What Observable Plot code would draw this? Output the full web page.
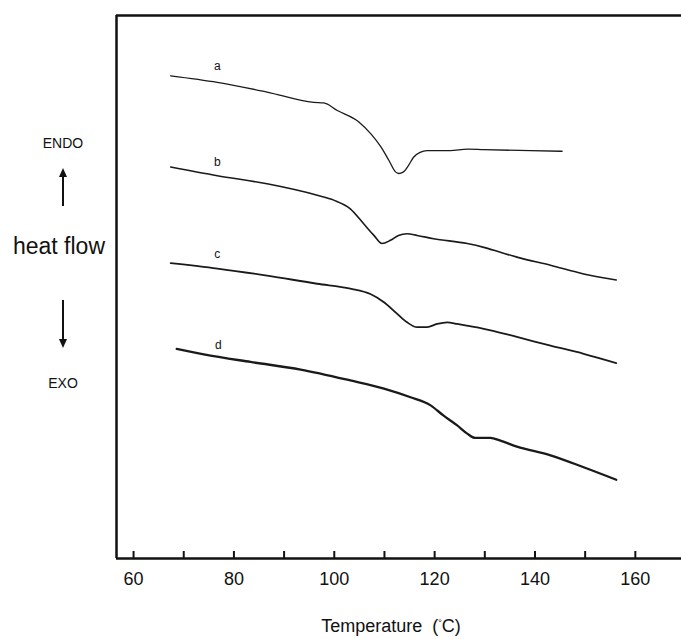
<!DOCTYPE html>
<html>
<head>
<meta charset="utf-8">
<script src="https://cdn.jsdelivr.net/npm/d3@7"></script>
<script src="https://cdn.jsdelivr.net/npm/@observablehq/plot@0.6"></script>
<style>
  html, body { margin: 0; padding: 0; background: #fff; }
  body { font-family: "Liberation Sans", Arial, Helvetica, sans-serif; color: #111; }
  #wrap { position: relative; width: 681px; height: 639px; overflow: hidden; }
  .ann { position: absolute; transform: translate(-50%, -50%); white-space: nowrap; line-height: 1; }
  .shaft { position: absolute; width: 2px; background: #111; transform: translateX(-50%); }
  .headUp, .headDown { position: absolute; width: 0; height: 0; transform: translateX(-50%);
    border-left: 4px solid transparent; border-right: 4px solid transparent; }
  .headUp { border-bottom: 9px solid #111; }
  .headDown { border-top: 9px solid #111; }
  #title { position: absolute; top: 617px; left: 391px; transform: translateX(-50%);
    font-size: 18px; white-space: pre; line-height: 1; }
</style>
</head>
<body>
<div id="wrap">
  <div id="chart"></div>
  <div class="ann" style="left:63px;top:143px;font-size:14px;">ENDO</div>
  <div class="headUp" style="left:63px;top:168px;"></div>
  <div class="shaft" style="left:63px;top:176px;height:30px;"></div>
  <div class="ann" style="left:59px;top:246px;font-size:23px;">heat flow</div>
  <div class="shaft" style="left:63px;top:300px;height:40px;"></div>
  <div class="headDown" style="left:63px;top:339px;"></div>
  <div class="ann" style="left:63px;top:383px;font-size:14px;">EXO</div>
  <div id="title">Temperature  (<sup style="font-size:9px;vertical-align:6px;">°</sup>C)</div>
</div>
<script>
// Axis domain and ticks (°C; heat flow in arbitrary units)
const xDomain = [56.6, 169.2];
const yDomain = [0, 100];
const xTicks = [60, 70, 80, 90, 100, 110, 120, 130, 140, 150, 160];
const xLabels = [60, 80, 100, 120, 140, 160];

// Curve a
const tempA = [67.4, 76.7, 86.6, 95.9, 97.9, 100.6, 104.9, 107.3, 109.3, 110.9, 112.2, 112.8, 113.8, 114.8, 115.8, 117.1, 118.5, 123.1, 126.5, 129.8, 139.1, 145.4];
const flowA = [88.9, 87.7, 85.9, 84.0, 83.9, 82.5, 80.4, 78.2, 75.8, 73.3, 71.2, 70.9, 71.2, 72.4, 73.9, 74.8, 75.1, 75.1, 75.4, 75.3, 75.1, 75.0];
// Curve b
const tempB = [67.4, 76.7, 86.6, 96.6, 99.9, 103.2, 105.9, 107.9, 109.5, 111.2, 112.8, 114.5, 116.5, 119.8, 126.5, 129.8, 133.1, 136.4, 143.1, 149.7, 156.2];
const flowB = [72.1, 70.5, 69.0, 66.9, 66.0, 64.4, 61.6, 59.5, 58.0, 58.6, 59.5, 59.8, 59.5, 58.9, 58.0, 57.3, 56.4, 55.5, 54.0, 52.4, 51.3];
// Curve c
const tempC = [67.4, 76.7, 86.6, 96.6, 103.2, 107.2, 109.9, 112.5, 114.5, 116.5, 118.5, 120.5, 122.5, 124.5, 129.8, 136.4, 143.1, 149.7, 156.2];
const flowC = [54.4, 53.4, 52.1, 50.6, 49.7, 48.7, 47.2, 45.1, 43.5, 42.6, 42.6, 43.2, 43.5, 43.2, 42.3, 40.8, 39.2, 37.7, 36.0];
// Curve d
const tempD = [68.6, 74.0, 83.3, 93.3, 103.2, 109.9, 115.2, 119.2, 121.8, 124.5, 126.5, 128.1, 131.1, 133.1, 136.4, 143.1, 149.7, 156.2];
const flowD = [38.6, 37.6, 36.2, 34.8, 32.8, 31.3, 29.7, 28.2, 26.3, 24.5, 23.0, 22.2, 22.2, 21.7, 20.6, 19.0, 16.8, 14.5];

// Curve labels
const curveNames = ["a", "b", "c", "d"];
const labelTemp = [76.7, 76.7, 76.7, 76.9];
const labelFlow = [90.6, 73.0, 56.0, 39.2];

const toRows = (T, F) => T.map((t, i) => ({t, f: F[i]}));
const labels = curveNames.map((n, i) => ({n, t: labelTemp[i], f: labelFlow[i]}));

const chart = Plot.plot({
  width: 681,
  height: 600,
  marginLeft: 116,
  marginRight: 0,
  marginTop: 15,
  marginBottom: 42,
  style: {fontFamily: "'Liberation Sans', Arial, Helvetica, sans-serif", background: "#fff", color: "#111"},
  x: {domain: xDomain},
  y: {domain: yDomain, axis: null},
  marks: [
    Plot.ruleX(xTicks, {insetTop: 536, strokeWidth: 2, stroke: "#111"}),
    Plot.axisX(xLabels, {tickSize: 0, tickPadding: 14, fontSize: 18, label: null}),
    Plot.ruleY([yDomain[1]], {strokeWidth: 2.5, stroke: "#111"}),
    Plot.ruleY([yDomain[0]], {strokeWidth: 2.5, stroke: "#111"}),
    Plot.ruleX([xDomain[0]], {strokeWidth: 2.5, stroke: "#111"}),
    Plot.line(toRows(tempA, flowA), {x: "t", y: "f", stroke: "#1a1a1a", strokeWidth: 1.3, curve: "monotone-x"}),
    Plot.line(toRows(tempB, flowB), {x: "t", y: "f", stroke: "#1a1a1a", strokeWidth: 1.6, curve: "monotone-x"}),
    Plot.line(toRows(tempC, flowC), {x: "t", y: "f", stroke: "#1a1a1a", strokeWidth: 1.8, curve: "monotone-x"}),
    Plot.line(toRows(tempD, flowD), {x: "t", y: "f", stroke: "#1a1a1a", strokeWidth: 2.3, curve: "monotone-x"}),
    Plot.text(labels, {x: "t", y: "f", text: "n", fontSize: 12, fill: "#111"})
  ]
});
document.getElementById("chart").appendChild(chart);
</script>
</body>
</html>
